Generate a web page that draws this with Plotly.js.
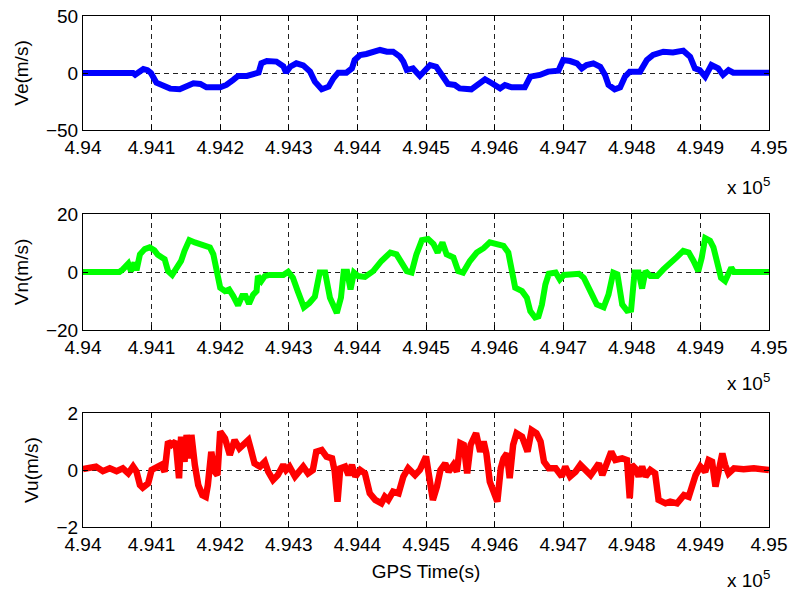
<!DOCTYPE html>
<html>
<head>
<meta charset="utf-8">
<script src="https://cdn.plot.ly/plotly-3.0.1.min.js"></script>
<style>html,body{margin:0;padding:0;background:#fff;}#chart{width:794px;height:592px;}</style>
</head>
<body>
<div id="chart"></div>
<script>
// GPS time offsets (s) from 494000 and velocity values
var baseTime = 494000;
var tVe = [0,20,40,60,73,76,82,88,94,99,107,117,127,141,151,161,171,180,200,209,219,226,239,248,256,260,268,282,292,296,302,311,321,331,338,348,358,365,372,384,392,396,404,413,423,433,443,452,462,467,472,481,491,498,506,515,525,532,542,549,566,576,586,596,608,615,625,644,652,666,678,693,700,710,720,727,734,744,754,761,766,775,783,790,797,812,822,831,846,860,875,885,892,899,907,916,926,933,941,948,970,1000];
var ve = [0,0.3,-0.2,0.3,0,-1.5,1,3.5,2.5,0,-8.5,-11.4,-13.7,-14.3,-12,-9,-9.6,-12.6,-12.6,-10.5,-6,-2.6,-2.6,-1,0.3,8.5,10.5,10,6,0.3,5.5,8.5,6.7,1.2,-7.6,-14.3,-12,-4.7,0.3,0.3,4,11.4,15.8,16.7,18.7,20.2,18.7,18.7,14.3,10,2.6,4,-2.6,2.6,7,5.5,-3.2,-9.6,-10.5,-13.5,-14.3,-10.5,-5.5,-9,-13.5,-10.5,-12.6,-12.6,-3.2,-1.7,1.2,2,11.4,10.5,8.5,4,7,8.5,5.5,-1.7,-10.5,-14.3,-12.6,-3.2,1.2,1.2,11.4,15.8,18.7,18.1,19.6,14.3,4,2.6,-3.2,7,4,-1.7,2.6,0.3,0,0.3];

var tVn = [0,53,58,66,70,75,78,83,90,97,104,109,119,124,130,136,143,148,155,163,170,177,185,190,194,200,207,213,219,226,232,237,242,248,253,255,260,265,272,292,299,306,313,322,330,338,345,353,360,370,376,380,385,390,395,401,411,423,435,448,457,465,472,479,486,494,503,511,517,524,530,540,547,554,564,574,584,593,603,613,620,625,630,640,647,652,659,664,669,674,679,689,695,701,715,723,730,735,742,749,759,766,773,779,786,793,799,804,810,815,820,827,837,846,854,866,875,883,890,897,902,907,914,919,924,930,936,941,945,949,1000];
var vn = [0,0,0.9,2.9,0.3,3.2,0.6,6.1,7.9,8.5,7.5,5.9,4.4,0.3,-1.0,0.9,3.8,7.3,11,10.2,9.6,9.4,8.5,6.1,0.3,-5.4,-6.6,-6.0,-8.3,-11.5,-8.3,-8.3,-11,-7.8,-6.6,-1.4,-3.1,-1.4,-1.0,-1.0,0.1,-2.0,-6.6,-12.2,-10.7,-8.5,-0.2,-0.2,-8.9,-14.1,-8.9,0.1,0.1,-6.0,-0.2,-1.4,-1.7,0.3,3.8,6.7,6.1,3.2,0.3,-0.2,6.1,11,11.4,9.6,6.7,10.2,6.1,5.0,0.3,-0.2,3.8,6.7,8.2,10.2,9.6,9.0,6.7,0.3,-5.4,-6.6,-8.9,-13.5,-15.7,-15.3,-11.2,-4.3,-0.6,-0.2,-2.6,-1.0,-0.6,-0.6,-2.0,-4.9,-7.8,-11.2,-12.2,-7.8,-0.2,-0.8,-11.2,-13.3,-13,-0.2,-0.2,-5.7,0.3,-1.4,-1.4,0.9,2.9,5.2,7.3,6.7,3.8,0.3,5.0,11.7,10.8,8.5,3.8,-2.0,-3.1,0.3,1.5,0,0];

var tVu = [0,19,29,39,49,58,66,73,78,83,87,95,100,107,114,119,124,129,135,140,143,148,151,155,158,163,168,174,179,182,184,187,192,196,200,207,214,221,228,233,241,245,250,258,265,270,277,284,292,296,301,309,313,321,328,335,340,348,355,363,367,371,375,382,387,392,397,404,411,418,426,435,440,445,452,460,467,474,484,491,500,505,510,516,521,528,533,540,545,550,555,560,565,573,579,584,588,593,598,604,609,613,618,622,627,632,640,648,654,661,667,672,679,689,698,703,710,718,725,732,740,747,752,757,764,770,776,786,793,797,800,805,810,815,820,827,834,839,849,856,866,876,883,888,893,900,907,912,917,922,927,932,936,941,949,963,978,992,1000];
var vu = [0.03,0.12,-0.04,0.06,-0.04,0.06,-0.12,0.12,-0.06,-0.53,-0.62,-0.47,0,0.12,0.18,-0.06,1.0,0.88,1.0,-0.29,1.17,0.29,1.23,0.41,1.23,0.18,-0.53,-0.88,-0.94,-0.53,0.35,0.64,-0.06,-0.18,1.35,1.11,0.53,1.05,0.76,0.88,1.05,0.7,0.23,0.12,0.29,-0.06,-0.35,-0.18,0.18,0,0.12,-0.23,-0.12,0.12,-0.12,0,0.64,0.7,0.47,0.41,-0.06,-1.11,0.06,0.12,-0.18,0.18,-0.23,0,-0.12,-0.82,-1.05,-1.17,-0.94,-1.05,-0.76,-0.82,-0.23,0.06,-0.18,0,0.47,-0.41,-1.05,-0.58,0,0.23,-0.06,0.18,-0.06,0.94,0.88,-0.12,0.88,1.29,0.64,1.0,0.58,-0.41,-0.7,-1.11,0.06,0.41,0.58,-0.29,0.88,1.29,1.17,0.64,1.4,1.29,1.0,0.29,0.06,0.06,-0.23,0.12,-0.23,-0.06,0.18,0,-0.18,0.06,0.23,-0.18,0.29,0.64,0.35,0.41,0.35,-0.99,0.18,0.06,-0.23,0.12,-0.23,0,-0.12,-1.05,-1.17,-1.11,-1.17,-0.88,-0.94,-0.53,-0.18,0.12,-0.06,0.35,0.29,-0.58,-0.06,0.58,0.18,-0.12,0.06,0.03,0.06,0,0];

var xTickVals = [494000,494100,494200,494300,494400,494500,494600,494700,494800,494900,495000];
var xTickText = ['4.94','4.941','4.942','4.943','4.944','4.945','4.946','4.947','4.948','4.949','4.95'];
var yTitles = ['Ve(m/s)','Vn(m/s)','Vu(m/s)'];
var xTitle = 'GPS Time(s)';
var exponentLabel = 'x 10<sup>5</sup>';

function abs(ts){ return ts.map(function(t){ return baseTime + t; }); }

var W = 794, H = 592;
var FONT = 'Liberation Sans, Arial, Helvetica, sans-serif';
var traces = [
  {x: abs(tVe), y: ve, type: 'scatter', mode: 'lines', line: {color: '#0000FF', width: 6}, xaxis: 'x', yaxis: 'y', showlegend: false},
  {x: abs(tVn), y: vn, type: 'scatter', mode: 'lines', line: {color: '#00FF00', width: 6}, xaxis: 'x2', yaxis: 'y2', showlegend: false},
  {x: abs(tVu), y: vu, type: 'scatter', mode: 'lines', line: {color: '#FF0000', width: 6.5}, xaxis: 'x3', yaxis: 'y3', showlegend: false}
];

function xAx(anchor, withTitle){
  var a = {
    domain: [83/W, 769/W], anchor: anchor, range: [494000, 495000],
    tickmode: 'array', tickvals: xTickVals, ticktext: xTickText,
    showline: true, mirror: 'ticks', linecolor: '#000', linewidth: 1,
    ticks: 'inside', ticklen: 5, tickcolor: '#000',
    showgrid: true, gridcolor: '#222', gridwidth: 1, griddash: '5px,4px',
    zeroline: false, tickfont: {family: FONT, size: 19, color: '#000'}, fixedrange: true
  };
  if (withTitle) a.title = {text: xTitle, font: {family: FONT, size: 19, color: '#000'}, standoff: 10};
  return a;
}
function yAx(anchor, top, bottom, lim, title){
  return {
    domain: [(H-bottom)/H, (H-top)/H], anchor: anchor, range: [-lim, lim],
    tickmode: 'array', tickvals: [-lim, 0, lim],
    showline: true, mirror: 'ticks', linecolor: '#000', linewidth: 1,
    ticks: 'inside', ticklen: 5, tickcolor: '#000',
    showgrid: true, gridcolor: '#222', gridwidth: 1, griddash: '5px,4px',
    zeroline: false, tickfont: {family: FONT, size: 19, color: '#000'},
    title: {text: title, font: {family: FONT, size: 19, color: '#000'}, standoff: 12}, fixedrange: true
  };
}

var layout = {
  width: W, height: H, margin: {l: 0, r: 0, t: 0, b: 0},
  paper_bgcolor: '#fff', plot_bgcolor: '#fff',
  xaxis: xAx('y', false), yaxis: yAx('x', 16, 130, 50, yTitles[0]),
  xaxis2: xAx('y2', false), yaxis2: yAx('x2', 214, 330, 20, yTitles[1]),
  xaxis3: xAx('y3', true), yaxis3: yAx('x3', 413, 527, 2, yTitles[2]),
  annotations: [172, 368, 565].map(function(yTop){
    return {text: exponentLabel, xref: 'paper', yref: 'paper', x: 772/W, y: (H-yTop)/H,
      xanchor: 'right', yanchor: 'top', showarrow: false,
      font: {family: FONT, size: 19, color: '#000'}};
  })
};

Plotly.newPlot('chart', traces, layout, {staticPlot: true, displayModeBar: false});
</script>
</body>
</html>
